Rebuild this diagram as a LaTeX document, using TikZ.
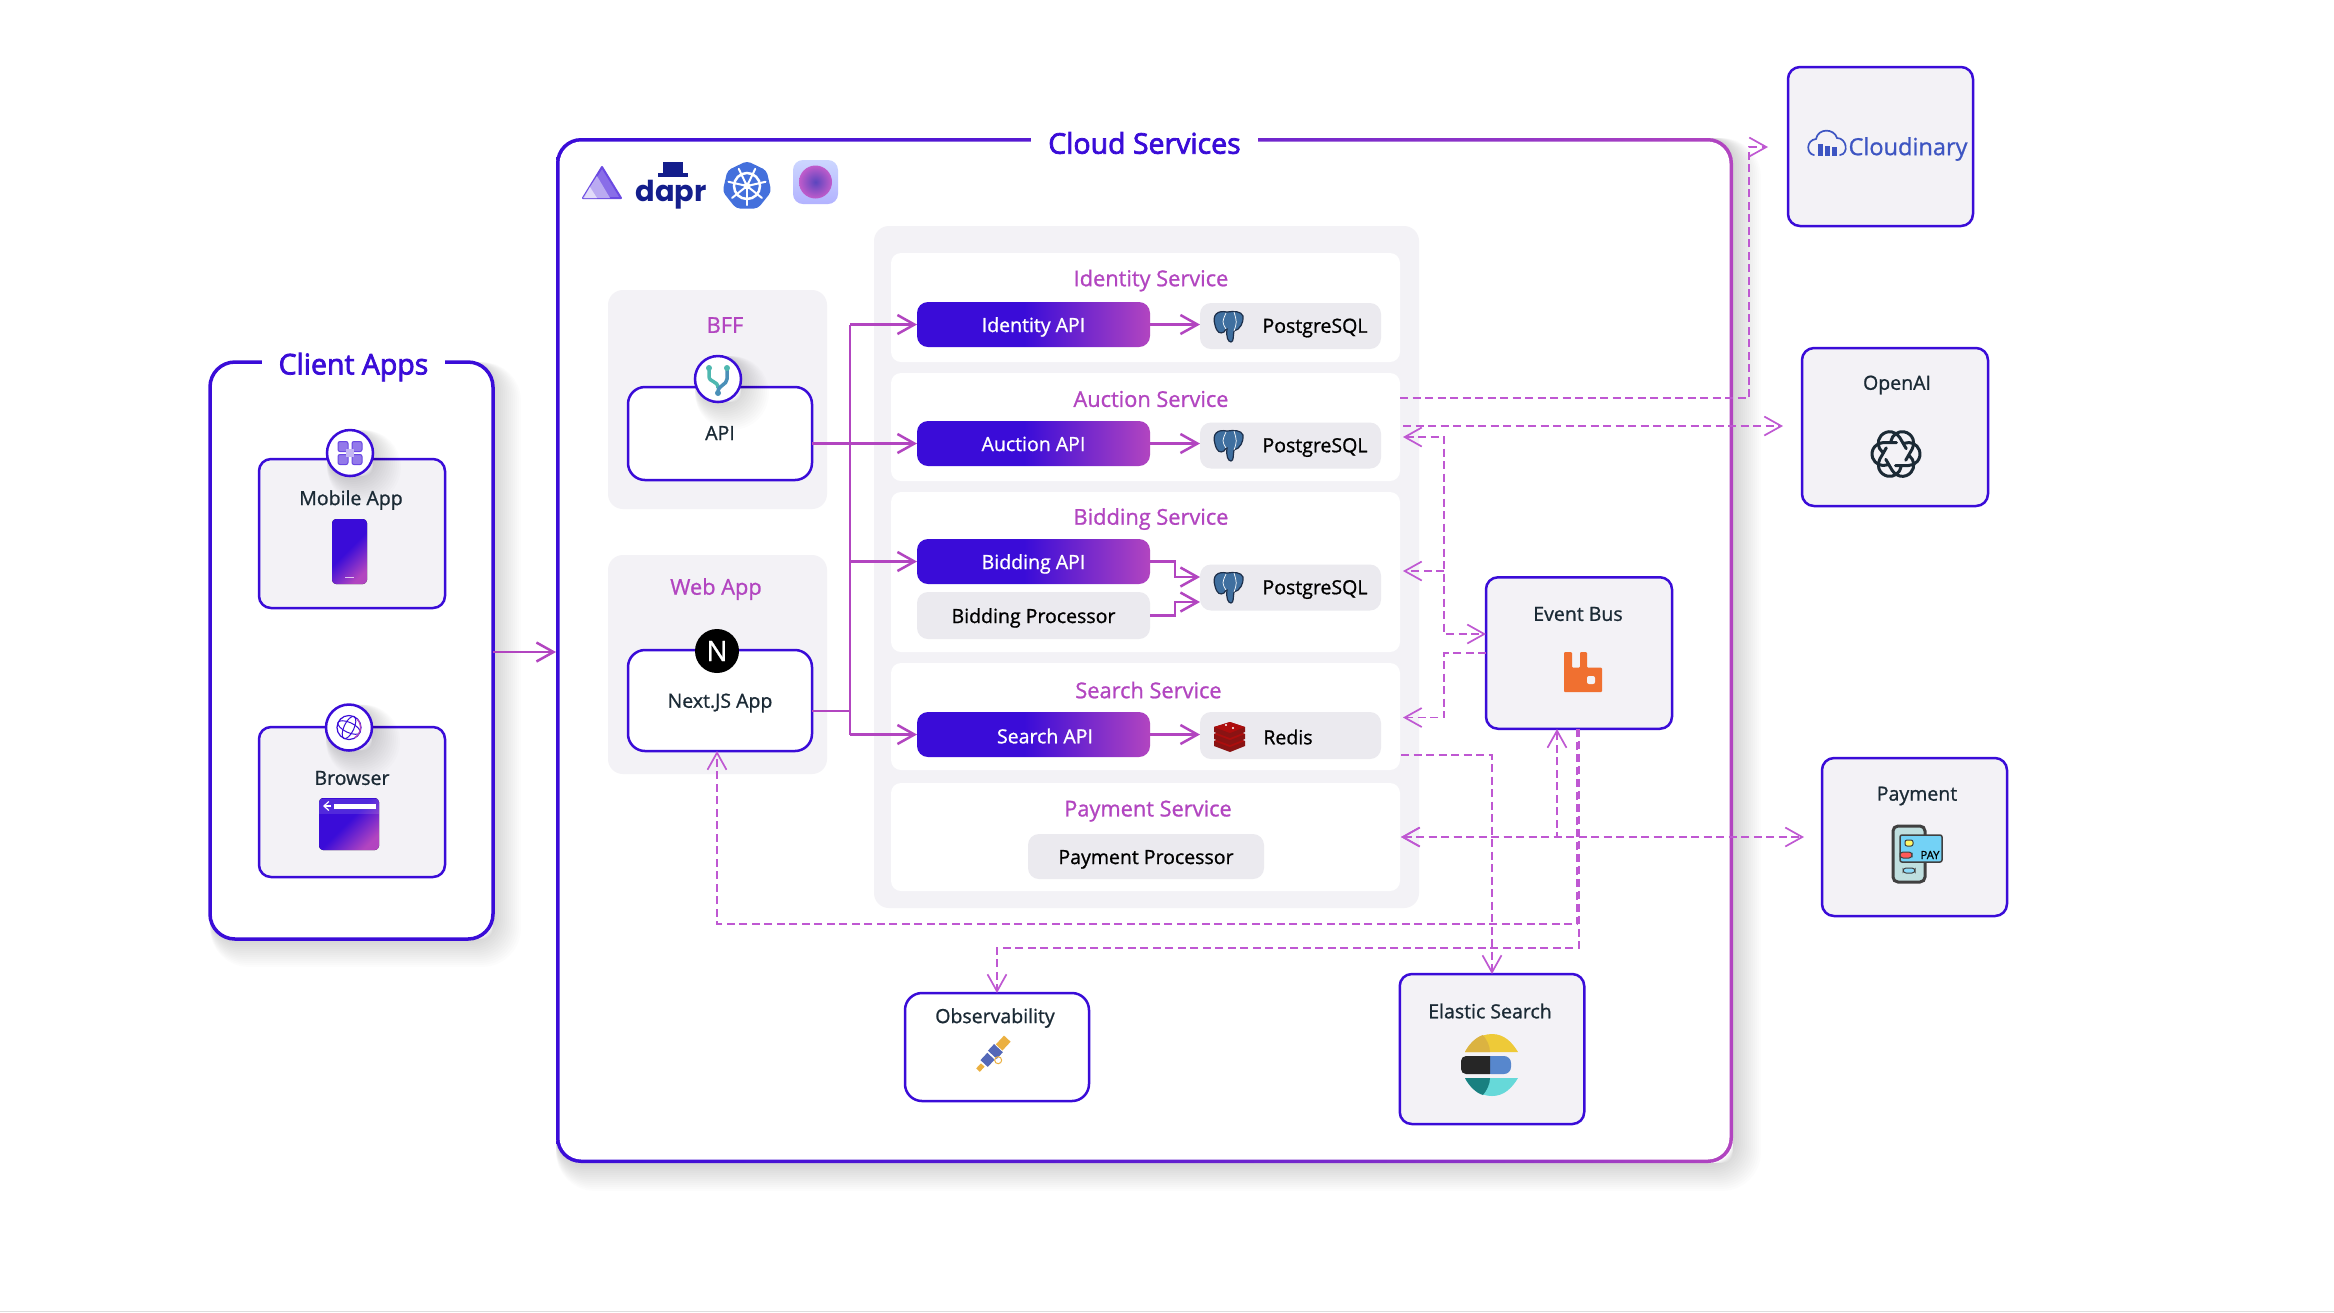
\documentclass[tikz,border=0pt]{standalone}
\usepackage{fontspec}
\setmainfont{Open Sans}[FakeBold=1.0]
\newfontfamily\titlefont{Open Sans}[FakeBold=2.6]
\newfontfamily\daprfont{Poppins}
\usetikzlibrary{arrows.meta,shapes.geometric}

\definecolor{gradblue}{HTML}{3A0CD8}
\definecolor{gradpink}{HTML}{B245C0}
\definecolor{panelgray}{HTML}{F3F2F6}
\definecolor{pillgray}{HTML}{EBEAEF}
\definecolor{inkdark}{HTML}{1B2A35}
\definecolor{pgblue}{HTML}{3F6F9F}
\definecolor{pgdark}{HTML}{1D2F4A}
\definecolor{dashpink}{HTML}{BF58D2}
\definecolor{daprnavy}{HTML}{141E8C}
\definecolor{kubeblue}{HTML}{4470DC}
\definecolor{logoblue}{HTML}{3D55C2}
\definecolor{rabbit}{HTML}{F07030}
\definecolor{scopeblue}{HTML}{5468B8}
\definecolor{scopegold}{HTML}{EBB040}
\definecolor{forkteal}{HTML}{4FB8B0}
\definecolor{forkblue}{HTML}{4A90B8}
\definecolor{ballcore}{HTML}{5B45BE}
\definecolor{ballrim}{HTML}{C05CCB}

\pgfdeclarehorizontalshading{bluepink}{100bp}{color(0bp)=(gradblue); color(25bp)=(gradblue); color(48bp)=(gradblue); color(75bp)=(gradpink); color(100bp)=(gradpink)}
\pgfdeclarehorizontalshading{frameedge}{100bp}{color(0bp)=(gradblue); color(25bp)=(gradblue); color(50bp)=(gradblue!70!gradpink); color(75bp)=(gradpink); color(100bp)=(gradpink)}

\tikzset{
	every node/.style={inner sep=0pt, outer sep=0pt, text=inkdark, font=\fontsize{5.55}{6.7}\selectfont},
	>={Straight Barb[length=1.7mm,width=1.9mm]},
	shadowstep/.style={preaction={draw=black, line width=#1mm, draw opacity=0.011, transform canvas={shift={(#1*0.05,#1*0.05)}}}},
	softshadow/.style={shadowstep/.list={0.2,0.4,0.6,0.8,1.0,1.2,1.4,1.6,1.8,2.0,2.2,2.4,2.6,2.8}},
	svcbox/.style={draw=gradblue, fill=panelgray, line width=0.25mm, rounded corners=0.12cm},
	hostbox/.style={svcbox, fill=white, rounded corners=0.17cm},
	greypanel/.style={fill=panelgray, rounded corners=0.15cm},
	svccard/.style={fill=white, rounded corners=0.1cm, minimum width=5.09cm},
	apipill/.style={shading=bluepink, rounded corners=0.11cm, minimum width=2.33cm, minimum height=0.45cm, text=white, text height=1.9mm, text depth=0.4mm},
	plainpill/.style={fill=pillgray, rounded corners=0.11cm, text=black, text height=1.9mm, text depth=0.4mm},
	dbpill/.style={fill=pillgray, rounded corners=0.11cm, minimum width=1.81cm, minimum height=0.46cm},
	badge/.style={circle, draw=gradblue, fill=white, line width=0.25mm, minimum size=0.46cm, softshadow},
	svctitle/.style={text=gradpink, font=\fontsize{6.2}{7.4}\selectfont},
	frametitle/.style={fill=white, minimum height=0.3cm, text=gradblue, font=\titlefont\fontsize{8.1}{9.5}\selectfont},
	flow/.style={draw=gradpink, line width=0.25mm},
	dashflow/.style={draw=dashpink, line width=0.17mm, dash pattern=on 0.8mm off 0.45mm},
}

\def\elephant(#1){
	\begin{scope}[shift={(#1)}]
		\filldraw[fill=pgblue, draw=pgdark, line width=0.12mm] (-0.02,-0.15) .. controls (-0.12,-0.17) and (-0.17,-0.12) .. (-0.14,-0.02) .. controls (-0.12,0.06) and (-0.09,0.07) .. (-0.05,0.05) .. controls (-0.03,0.02) .. (-0.02,0.02) .. controls (-0.03,0.10) and (-0.01,0.15) .. (0.02,0.15) .. controls (0.05,0.15) and (0.04,0.08) .. (0.05,0.04) .. controls (0.11,0.03) and (0.15,-0.05) .. (0.14,-0.11) .. controls (0.12,-0.16) and (0.05,-0.16) .. cycle;
		\draw[white, line width=0.07mm] (-0.03,-0.14) .. controls (-0.07,-0.05) .. (-0.03,0.02) (0.05,-0.15) .. controls (0.08,-0.05) .. (0.05,0.04);
	\end{scope}
}

\begin{document}
\begin{tikzpicture}[x=1cm,y=-1cm]
	\useasboundingbox (0,0) rectangle (23.34,13.12);
	\fill[black!13] (0,13.105) rectangle (23.34,13.12);
	%%%%% FRAMES %%%%%

	\node[softshadow, draw=gradblue, fill=white, line width=0.35mm, rounded corners=0.25cm, minimum width=2.83cm, minimum height=5.77cm] (clientapps) at (3.515,6.505) {};
	\node[frametitle, minimum width=1.83cm] (clienttitle) at (3.535,3.67) {Client Apps};

	\node[softshadow, shading=frameedge, rounded corners=0.25cm, minimum width=11.77cm, minimum height=10.25cm] (cloudedge) at (11.445,6.505) {};
	\node[fill=white, rounded corners=0.22cm, minimum width=11.70cm, minimum height=10.18cm] (cloudservices) at (11.445,6.505) {};
	\node[frametitle, minimum width=2.27cm] (cloudtitle) at (11.445,1.43) {Cloud Services};

	%%%%% CLIENT APPS %%%%%

	\node[svcbox, minimum width=1.86cm, minimum height=1.49cm] (mobileapp) at (3.52,5.335) {};
	\node[badge] (mobilebadge) at (3.50,4.53) {};
	\node (mobiletext) at (3.51,5.00) {Mobile App};
	\foreach \dx in {-0.07,0.07}
		\foreach \dy in {-0.065,0.065}
			\filldraw[fill=gradblue!55!white, draw=gradblue!75!white, line width=0.1mm, rounded corners=0.2mm] (3.50+\dx-0.05,4.53+\dy-0.05) rectangle (3.50+\dx+0.05,4.53+\dy+0.05);
	\fill[gradblue!30!white] (3.46,4.49) rectangle (3.54,4.57);
	\fill[shading=bluepink, shading angle=-45, rounded corners=0.4mm] (3.32,5.19) rectangle (3.67,5.84);
	\fill[white, opacity=0.7] (3.45,5.765) rectangle (3.54,5.78);

	\node[svcbox, minimum width=1.86cm, minimum height=1.50cm] (browser) at (3.52,8.02) {};
	\node[badge] (browserbadge) at (3.49,7.275) {};
	\node (browsertext) at (3.52,7.78) {Browser};
	\draw[gradblue, line width=0.12mm] (3.49,7.275) circle (0.12);
	\draw[gradblue, line width=0.1mm, rotate around={-25:(3.49,7.275)}] (3.49,7.275) ellipse (0.12 and 0.05);
	\draw[gradblue, line width=0.1mm, rotate around={-25:(3.49,7.275)}] (3.49,7.275) ellipse (0.05 and 0.12);
	\draw[gradpink, line width=0.12mm] (3.57,7.19) arc (-45:60:0.12);
	\fill[shading=bluepink, shading angle=-45, rounded corners=0.4mm] (3.19,7.98) rectangle (3.79,8.50);
	\fill[white, opacity=0.12] (3.19,8.14) rectangle (3.79,7.99);
	\fill[white] (3.34,8.035) rectangle (3.76,8.085);
	\draw[white, line width=0.12mm, -{Straight Barb[length=0.5mm,width=0.9mm]}] (3.31,8.06) -- (3.23,8.06);

	%%%%% CLOUD ICONS %%%%%

	\filldraw[fill=gradblue!60!white, draw=gradblue!75!white, line width=0.2mm, line join=round] (6.02,1.67) -- (6.21,1.98) -- (5.83,1.98) -- cycle;
	\fill[gradblue!35!white] (5.97,1.76) -- (6.10,1.98) -- (5.83,1.98) -- cycle;
	\fill[gradblue!15!white] (5.90,1.87) -- (5.97,1.98) -- (5.84,1.98) -- cycle;

	\node[font=\daprfont\fontsize{8.2}{9}\selectfont\bfseries, text=daprnavy] (daprtext) at (6.71,1.95) {dapr};
	\fill[daprnavy] (6.63,1.62) rectangle (6.83,1.73);
	\fill[daprnavy] (6.58,1.73) rectangle (6.88,1.77);

	\node[regular polygon, regular polygon sides=7, fill=kubeblue, minimum size=0.5cm, rounded corners=0.4mm] (k8sicon) at (7.47,1.86) {};
	\draw[white, line width=0.25mm] (k8sicon.center) circle (0.13);
	\fill[white] (k8sicon.center) circle (0.035);
	\foreach \a in {90,141.4,192.9,244.3,295.7,347.1,38.6}
		\draw[white, line width=0.2mm, line cap=round] (k8sicon.center) -- ++(\a:0.19);

	\node[rounded corners=0.1cm, top color=cyan!20!blue!20!white, bottom color=blue!30!white, minimum width=0.45cm, minimum height=0.44cm] (spheretile) at (8.155,1.82) {};
	\shade[inner color=ballcore, outer color=ballrim] (spheretile.center) circle (0.165);

	%%%%% BFF AND WEB APP %%%%%

	\node[greypanel, minimum width=2.19cm, minimum height=2.19cm] (bffpanel) at (7.175,3.995) {};
	\node[svctitle] (bfftitle) at (7.25,3.25) {BFF};
	\node[hostbox, minimum width=1.84cm, minimum height=0.93cm] (apibox) at (7.20,4.335) {};
	\node[badge] (apibadge) at (7.18,3.79) {};
	\node (apitext) at (7.20,4.33) {API};
	\draw[forkteal, line width=0.35mm] (7.09,3.68) -- (7.09,3.76) .. controls (7.09,3.83) and (7.18,3.80) .. (7.18,3.88);
	\draw[forkblue, line width=0.35mm] (7.27,3.68) -- (7.27,3.79) .. controls (7.27,3.85) and (7.18,3.85) .. (7.18,3.92);
	\fill[forkteal] (7.09,3.68) circle (0.03) (7.27,3.68) circle (0.03);
	\fill[forkblue] (7.18,3.93) circle (0.03);

	\node[greypanel, minimum width=2.19cm, minimum height=2.19cm] (webpanel) at (7.175,6.645) {};
	\node[svctitle] (webtitle) at (7.16,5.89) {Web App};
	\node[hostbox, minimum width=1.84cm, minimum height=1.01cm] (nextapp) at (7.20,7.005) {};
	\node[circle, fill=black, minimum size=0.44cm, text=white, font=\fontsize{8}{9}\selectfont] (nextbadge) at (7.17,6.51) {N};
	\node (nexttext) at (7.20,7.03) {Next.JS App};

	%%%%% SERVICES %%%%%

	\node[greypanel, minimum width=5.45cm, minimum height=6.82cm] (servicespanel) at (11.465,5.67) {};

	\node[svccard, minimum height=1.09cm] (identitycard) at (11.455,3.075) {};
	\node[svccard, minimum height=1.08cm] (auctioncard) at (11.455,4.27) {};
	\node[svccard, minimum height=1.60cm] (biddingcard) at (11.455,5.72) {};
	\node[svccard, minimum height=1.07cm] (searchcard) at (11.455,7.165) {};
	\node[svccard, minimum height=1.08cm] (paymentcard) at (11.455,8.37) {};

	\node[svctitle] (identitytitle) at (11.51,2.805) {Identity Service};
	\node[svctitle] (auctiontitle) at (11.51,3.99) {Auction Service};
	\node[svctitle] (biddingtitle) at (11.51,5.19) {Bidding Service};
	\node[svctitle] (searchtitle) at (11.485,6.90) {Search Service};
	\node[svctitle] (paymenttitle) at (11.48,8.11) {Payment Service};

	\node[apipill] (identityapi) at (10.335,3.245) {Identity API};
	\node[apipill] (auctionapi) at (10.335,4.435) {Auction API};
	\node[apipill] (biddingapi) at (10.335,5.615) {Bidding API};
	\node[plainpill, minimum width=2.33cm, minimum height=0.47cm] (biddingproc) at (10.335,6.155) {Bidding Processor};
	\node[apipill] (searchapi) at (10.335,7.345) {};
	\node[text=white] (searchtext) at (10.45,7.36) {Search API};
	\node[plainpill, minimum width=2.36cm, minimum height=0.45cm] (paymentproc) at (11.46,8.565) {Payment Processor};

	\node[dbpill] (identitydb) at (12.905,3.26) {};
	\node[dbpill] (auctiondb) at (12.905,4.455) {};
	\node[dbpill] (biddingdb) at (12.905,5.875) {};
	\node[dbpill, minimum height=0.47cm] (redisdb) at (12.905,7.355) {};
	\node[text=black] (identitysql) at (13.15,3.28) {PostgreSQL};
	\node[text=black] (auctionsql) at (13.15,4.475) {PostgreSQL};
	\node[text=black] (biddingsql) at (13.15,5.895) {PostgreSQL};
	\node[text=black] (redistext) at (12.88,7.37) {Redis};
	\elephant(12.29,3.27)
	\elephant(12.29,4.46)
	\elephant(12.29,5.88)
	\foreach \ly in {7.41,7.34,7.27}{
		\fill[red!55!black!85!gray] (12.14,\ly) -- (12.30,\ly-0.05) -- (12.45,\ly) -- (12.45,\ly+0.05) -- (12.30,\ly+0.11) -- (12.14,\ly+0.05) -- cycle;
		\fill[red!70!black!90!gray] (12.14,\ly) -- (12.30,\ly-0.05) -- (12.45,\ly) -- (12.30,\ly+0.06) -- cycle;
	}
	\fill[white] (12.26,7.25) circle (0.012) (12.33,7.28) circle (0.012);

	%%%%% EVENT BUS AND STORES %%%%%

	\node[svcbox, minimum width=1.86cm, minimum height=1.515cm] (eventbus) at (15.79,6.53) {};
	\node (eventtext) at (15.78,6.14) {Event Bus};
	\fill[rabbit, rounded corners=0.1mm] (15.64,6.52) -- (15.72,6.52) -- (15.72,6.675) -- (15.80,6.675) -- (15.80,6.52) -- (15.87,6.52) -- (15.87,6.675) -- (16.02,6.675) -- (16.02,6.92) -- (15.64,6.92) -- cycle;
	\fill[panelgray, rounded corners=0.2mm] (15.87,6.76) rectangle (15.95,6.84);

	\node[hostbox, minimum width=1.84cm, minimum height=1.08cm] (observability) at (9.97,10.47) {};
	\node (obstext) at (9.95,10.18) {Observability};
	\begin{scope}[shift={(9.93,10.54)},rotate=47]
		\fill[scopegold] (0.09,-0.045) rectangle (0.21,0.045);
		\fill[scopeblue] (-0.01,-0.06) rectangle (0.08,0.06);
		\fill[scopeblue] (-0.13,-0.05) rectangle (-0.03,0.05);
		\fill[scopegold] (-0.22,-0.025) rectangle (-0.15,0.025);
		\draw[scopegold, line width=0.1mm] (-0.01,0.08) circle (0.035);
	\end{scope}

	\node[svcbox, minimum width=1.845cm, minimum height=1.50cm] (elastic) at (14.92,10.49) {};
	\node (elastictext) at (14.90,10.11) {Elastic Search};
	\fill[yellow!65!orange!85!gray!90!white] (14.65,10.52) .. controls (14.70,10.42) and (14.80,10.34) .. (14.92,10.34) .. controls (15.04,10.34) and (15.12,10.42) .. (15.18,10.52) -- cycle;
	\fill[yellow!50!orange!70!gray] (14.65,10.52) .. controls (14.69,10.44) and (14.76,10.37) .. (14.83,10.35) .. controls (14.87,10.40) and (14.90,10.46) .. (14.90,10.52) -- cycle;
	\fill[cyan!45!blue!70!white, rounded corners=0.7mm] (14.84,10.56) -- (15.11,10.56) -- (15.11,10.74) -- (14.84,10.74) -- cycle;
	\fill[black!85] (14.90,10.56) [rounded corners=0.5mm] -- (14.61,10.56) -- (14.61,10.74) [sharp corners] -- (14.90,10.74) -- cycle;
	\fill[teal!50!cyan!60!white] (14.65,10.78) .. controls (14.70,10.88) and (14.80,10.96) .. (14.92,10.96) .. controls (15.04,10.96) and (15.12,10.88) .. (15.18,10.78) -- cycle;
	\fill[teal!80!gray] (14.65,10.78) .. controls (14.69,10.86) and (14.76,10.93) .. (14.83,10.95) .. controls (14.87,10.90) and (14.90,10.84) .. (14.90,10.78) -- cycle;

	%%%%% EXTERNAL %%%%%

	\node[svcbox, minimum width=1.85cm, minimum height=1.59cm] (cloudinary) at (18.805,1.465) {};
	\node[text=logoblue, font=\fontsize{6.7}{8}\selectfont] (cloudinarytext) at (19.08,1.49) {Cloudinary};
	\draw[logoblue, line width=0.17mm, line cap=round] (18.14,1.55) .. controls (18.06,1.54) and (18.06,1.40) .. (18.16,1.39) .. controls (18.18,1.28) and (18.34,1.28) .. (18.37,1.38) .. controls (18.47,1.38) and (18.49,1.54) .. (18.40,1.55);
	\foreach \bx/\bt in {18.18/1.44,18.25/1.46,18.32/1.47}
		\fill[logoblue] (\bx,\bt) rectangle (\bx+0.05,1.56);

	\node[svcbox, minimum width=1.86cm, minimum height=1.58cm] (openai) at (18.95,4.27) {};
	\node (openaitext) at (18.97,3.85) {OpenAI};
	\foreach \a in {0,60,120,180,240,300}
		\draw[inkdark, line width=0.3mm, line cap=round, line join=round] ([shift={(\a:0.125)}]18.96,4.54) ++(\a-110:0.115) arc (\a-110:\a+90:0.115) -- ++(\a+180:0.13);

	\node[svcbox, minimum width=1.85cm, minimum height=1.58cm] (payment) at (19.145,8.37) {};
	\node (paymenttext) at (19.17,7.96) {Payment};
	\filldraw[fill=teal!25!white, draw=black!75, line width=0.3mm, rounded corners=0.5mm] (18.93,8.26) rectangle (19.25,8.82);
	\filldraw[fill=cyan!55!white, draw=black!75, line width=0.15mm, rounded corners=0.2mm] (19.00,8.35) rectangle (19.42,8.62);
	\filldraw[fill=yellow!60!white, draw=black!75, line width=0.1mm, rounded corners=0.2mm] (19.05,8.40) rectangle (19.13,8.46);
	\filldraw[fill=red!65!white, draw=black!75, line width=0.1mm, rounded corners=0.3mm] (19.00,8.52) rectangle (19.12,8.58);
	\filldraw[fill=cyan!45!white, draw=black!75, line width=0.1mm, rounded corners=0.3mm] (19.03,8.68) rectangle (19.15,8.73);
	\node[text=black, font=\fontsize{3.2}{4}\selectfont] (paytext) at (19.30,8.55) {PAY};

	%%%%% CONNECTORS %%%%%

	\coordinate (frameout) at (4.93,6.52);
	\draw[flow,->] (frameout) -- (cloudedge.west |- frameout);

	\coordinate (bus) at (8.50,4.45);
	\coordinate (nextout) at (8.12,7.11);
	\draw[flow] (bus |- identityapi.west) -- (bus |- searchapi.west);
	\draw[flow] (nextout) -- (bus |- nextout);
	\draw[flow,->] (apibox.east |- auctionapi.west) -- (auctionapi.west);
	\draw[flow,->] (bus |- identityapi.west) -- (identityapi.west);
	\draw[flow,->] (bus |- biddingapi.west) -- (biddingapi.west);
	\draw[flow,->] (bus |- searchapi.west) -- (searchapi.west);

	\draw[flow,->] (identityapi.east) -- (identitydb.west |- identityapi.east);
	\draw[flow,->] (auctionapi.east) -- (auctiondb.west |- auctionapi.east);
	\draw[flow,->] (searchapi.east) -- (redisdb.west |- searchapi.east);
	\draw[flow,->] (biddingapi.east) -- ++(0.25,0) |- ([yshift=1.05mm]biddingdb.west);
	\draw[flow,->] (biddingproc.east) -- ++(0.25,0) |- ([yshift=-1.45mm]biddingdb.west);

	\coordinate (auctionport) at (14.00,3.98);
	\coordinate (cloudinaryport) at (17.68,1.47);
	\coordinate (auctionopen) at (14.03,4.26);
	\coordinate (openaiport) at (17.83,4.26);
	\coordinate (auctionin) at (14.03,4.37);
	\coordinate (biddingin) at (14.03,5.71);
	\coordinate (busturn) at (14.44,6.34);
	\coordinate (searchin) at (14.03,7.175);
	\coordinate (searchout) at (14.01,7.55);
	\coordinate (paymentin) at (14.01,8.37);
	\coordinate (paymentport) at (18.04,8.37);
	\coordinate (busdrop) at (15.57,7.29);
	\coordinate (busnext) at (15.77,7.29);
	\coordinate (nextin) at (7.17,7.51);

	\draw[dashflow,->] (auctionport) -- ++(3.49,0) |- (cloudinaryport);
	\draw[dashflow,->] (auctionopen) -- (openaiport);
	\draw[dashflow,<->] (auctionin) -| (busturn) -- (eventbus.west |- busturn);
	\draw[dashflow,->] (busturn |- biddingin) -- (biddingin);
	\draw[dashflow,->] (eventbus.west) -- ++(-0.42,0) |- (searchin);
	\draw[dashflow,->] (searchout) -| (elastic.north);
	\draw[dashflow,<->] (paymentin) -| (busdrop);
	\draw[dashflow,<->] (paymentin) -- (paymentport);
	\draw[dashflow,->] (busnext) -- ++(0,1.95) -| (nextin);
	\draw[dashflow,->] (eventbus.south) -- ++(0,2.19) -| (observability.north);
\end{tikzpicture}
\end{document}
